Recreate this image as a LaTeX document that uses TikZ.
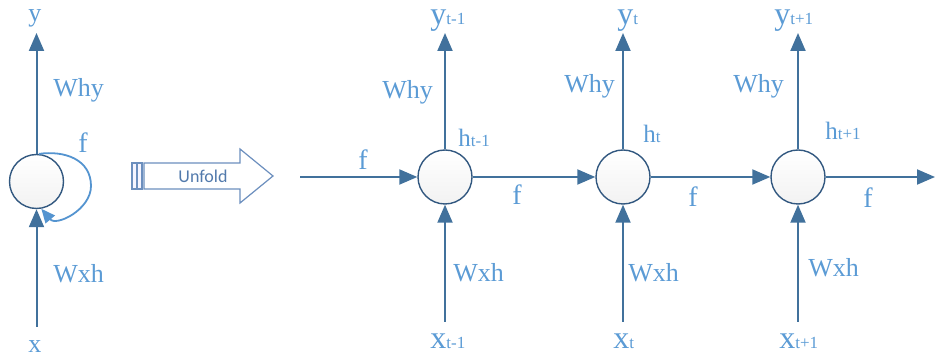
\documentclass[tikz,border=0pt]{standalone}
\usepackage{fontspec}
\setmainfont{Liberation Serif}
\newfontfamily\unfoldfont{Carlito}
\usepackage{xcolor}
\definecolor{rnnline}{RGB}{65,113,156}
\definecolor{rnnedge}{RGB}{50,88,128}
\definecolor{rnntext}{RGB}{91,155,213}
\definecolor{rnnloop}{RGB}{84,148,208}
\definecolor{rnnarr}{RGB}{108,143,190}
\definecolor{rnnunf}{RGB}{82,122,172}
\usetikzlibrary{arrows.meta}
\newcommand{\lo}[1]{{\fontsize{8.5}{9}\selectfont #1}}
\tikzset{
  cell/.style={circle,draw=rnnedge,line width=0.7pt,minimum size=27pt,inner sep=0pt,
    top color=white,bottom color=black!5},
  wire/.style={draw=rnnline,line width=1pt,-{Triangle[length=9pt,width=7.5pt]}},
  wlbl/.style={anchor=base west,inner sep=0pt,text=rnntext,font=\fontsize{13}{13}\selectfont},
  vlbl/.style={anchor=base west,inner sep=0pt,text=rnntext,font=\fontsize{16}{16}\selectfont},
  hlbl/.style={anchor=base west,inner sep=0pt,text=rnntext,font=\fontsize{12.5}{13}\selectfont},
}

\begin{document}
\begin{tikzpicture}[x=0.5pt,y=0.5pt]
\useasboundingbox (0,0) rectangle (935,358);
% ---- folded cell (left) ----
\node[cell] (c0) at (36.5,176.5) {};
\coordinate (yt0) at (36.5,325);
\coordinate (xb0) at (36.5,31);
\coordinate (lp) at (91,172);
\draw[wire] (c0) -- (yt0);
\draw[wire] (xb0) -- (c0);
% petla f
\draw[draw=rnnloop,line width=0.9pt,-{Triangle[length=7pt,width=6pt]}]
  (c0.85) to[out=8,in=90,looseness=1.1] (lp) to[out=-90,in=-50,looseness=1.1] (c0.-80);
\node[wlbl,font=\fontsize{13}{13}\selectfont] (y0) at (28,336) {y};
\node[wlbl] (x0) at (28,5) {x};
\node[wlbl] (why0) at (53,261) {Why};
\node[wlbl] (wxh0) at (53,75) {Wxh};
\node[wlbl,font=\fontsize{14}{14}\selectfont] (f0) at (78,205) {f};
% ---- Unfold arrow ----
\draw[draw=rnnarr,line width=0.6pt,fill=blue!4] (132,169) rectangle (136.5,195);
\draw[draw=rnnarr,line width=0.6pt,fill=blue!4] (137.5,169) rectangle (142,195);
\draw[draw=rnnarr,line width=0.6pt,fill=white]
  (144,169) -- (240,169) -- (240,155) -- (273,182) -- (240,209) -- (240,195) -- (144,195) -- cycle;
\node[font=\unfoldfont\fontsize{9}{9}\selectfont,text=rnnunf,inner sep=0pt] (unf) at (203,182) {Unfold};
% ---- unfolded cells (right) ----
\node[cell] (c1) at (445,181) {};
\node[cell] (c2) at (623,181) {};
\node[cell] (c3) at (798,181) {};
\coordinate (in) at (300,181);
\coordinate (out) at (935,181);
\coordinate (yt1) at (445,325); \coordinate (xb1) at (445,36);
\coordinate (yt2) at (623,325); \coordinate (xb2) at (623,36);
\coordinate (yt3) at (798,325); \coordinate (xb3) at (798,36);
\draw[wire] (in) -- (c1);
\draw[wire] (c1) -- (c2);
\draw[wire] (c2) -- (c3);
\draw[wire] (c3) -- (out);
\draw[wire] (c1) -- (yt1); \draw[wire] (xb1) -- (c1);
\draw[wire] (c2) -- (yt2); \draw[wire] (xb2) -- (c2);
\draw[wire] (c3) -- (yt3); \draw[wire] (xb3) -- (c3);
% wyjscia / wejscia
\node[vlbl] (y1) at (430,333) {y\lo{t-1}};
\node[vlbl] (y2) at (617,333) {y\lo{t}};
\node[vlbl] (y3) at (774,333) {y\lo{t+1}};
\node[vlbl] (x1) at (430,10) {x\lo{t-1}};
\node[vlbl] (x2) at (613,10) {x\lo{t}};
\node[vlbl] (x3) at (779,10) {x\lo{t+1}};
% wagi
\node[wlbl] (why1) at (382,259) {Why};
\node[wlbl] (why2) at (564,265) {Why};
\node[wlbl] (why3) at (733,265) {Why};
\node[wlbl] (wxh1) at (453,76) {Wxh};
\node[wlbl] (wxh2) at (628,76) {Wxh};
\node[wlbl] (wxh3) at (808,81) {Wxh};
\node[hlbl] (h1) at (458,211) {h\lo{t-1}};
\node[hlbl] (h2) at (643,215) {h\lo{t}};
\node[hlbl] (h3) at (825,218) {h\lo{t+1}};
\node[wlbl,font=\fontsize{14}{14}\selectfont] (fin) at (358,188) {f};
\node[wlbl,font=\fontsize{14}{14}\selectfont] (f1) at (512,153) {f};
\node[wlbl,font=\fontsize{14}{14}\selectfont] (f2) at (688,151) {f};
\node[wlbl,font=\fontsize{14}{14}\selectfont] (f3) at (863,150) {f};
\end{tikzpicture}
\end{document}
